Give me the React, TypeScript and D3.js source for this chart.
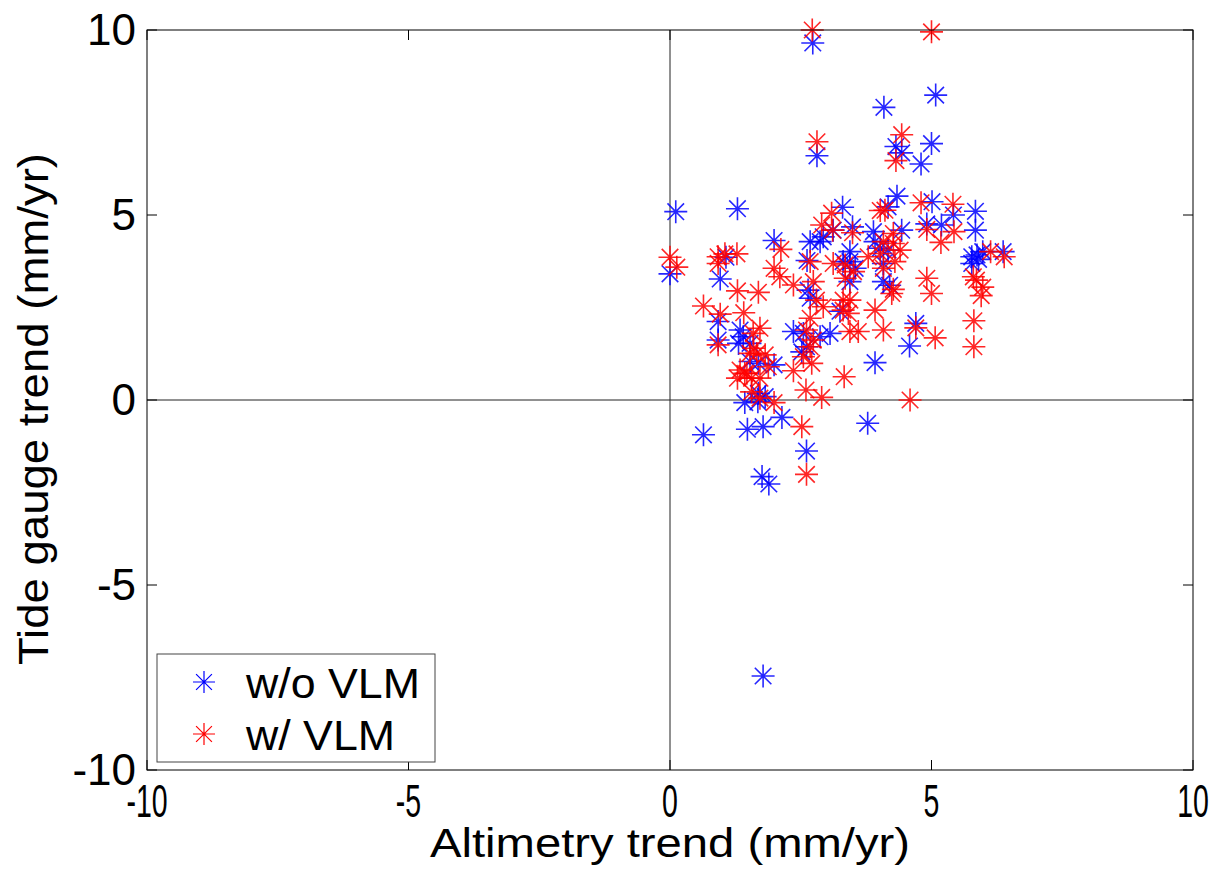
import React, { useEffect, useRef } from 'react';
import * as d3 from 'd3';

// w/o VLM (blue): [altimetry trend, tide gauge trend]
const noVlmX = [2.73, 2.81, 0.11, 1.29, 5.08, 4.09, 4.32, 4.43, 5.0, 4.8, 4.34, 3.3, 4.17, 5.01, 5.84, 5.42,
  0.0, 1.99, 1.07, 0.96, 0.92, 0.92, 1.34, 1.4, 2.36, 2.62, 2.87, 2.68, 2.93, 2.64, 2.68, 2.55, 2.87,
  5.84, 5.19, 4.91, 4.43, 3.89, 3.49, 3.12, 3.92, 4.17, 4.02, 4.08, 3.44, 3.31, 3.44, 3.54, 3.44, 4.08,
  4.2, 3.25, 3.06, 4.7, 4.58, 5.77, 5.87, 5.77, 5.98, 6.37, 5.9, 1.53, 1.69, 1.99, 1.82, 1.43, 1.68,
  1.69, 0.64, 1.48, 1.78, 2.14, 2.61, 1.76, 1.89, 2.52, 1.31, 1.53, 3.92, 3.78, 1.78, 2.61];
const noVlmY = [9.65, 6.6, 5.09, 5.17, 8.24, 7.91, 6.85, 6.68, 6.93, 6.38, 5.51, 5.21, 5.22, 5.36, 5.1, 5.0,
  3.41, 4.31, 3.86, 3.27, 2.12, 1.62, 1.89, 1.71, 1.85, 3.77, 4.28, 4.28, 4.41, 2.97, 2.75, 1.8, 1.71,
  4.59, 4.73, 4.76, 4.59, 4.55, 4.68, 4.59, 4.28, 4.05, 4.1, 3.69, 4.01, 3.74, 3.74, 3.56, 3.2, 3.2,
  3.1, 2.4, 1.8, 2.07, 1.46, 3.87, 3.92, 3.69, 4.01, 4.01, 3.8, 1.04, 0.99, 0.95, 0.09, -0.07, -0.05,
  0.18, -0.94, -0.79, -0.72, -0.47, -1.38, -2.07, -2.27, 1.3, 1.53, 1.53, 1.01, -0.63, -7.46, 1.44];

// w/ VLM (red)
const withVlmX = [2.72, 2.81, 5.0, 4.43, 4.32, 3.09, 4.02, 4.8, 5.41, 0.0, 0.13, 2.12, 0.92, 1.05, 1.28,
  0.92, 1.99, 2.1, 1.29, 1.69, 0.64, 0.96, 1.41, 0.92, 1.72, 1.59, 2.68, 2.9, 3.11, 2.36, 2.74, 2.8,
  2.93, 2.68, 2.61, 2.74, 2.68, 4.11, 5.43, 4.91, 5.18, 4.27, 3.49, 4.08, 4.27, 4.4, 4.02, 3.79, 4.3,
  4.08, 3.35, 3.51, 3.35, 3.12, 4.27, 4.24, 4.91, 5.0, 3.31, 3.31, 3.44, 3.41, 3.92, 4.08, 3.44, 3.6,
  4.7, 5.07, 5.81, 5.81, 6.13, 6.39, 5.8, 5.86, 5.98, 5.95, 1.34, 1.43, 1.29, 1.56, 1.72, 1.82, 1.66,
  1.53, 1.47, 1.88, 1.56, 1.72, 1.99, 2.52, 2.61, 2.36, 2.6, 2.9, 2.55, 2.71, 3.33, 4.59, 1.6];
const withVlmY = [10.0, 6.98, 9.95, 7.17, 6.47, 5.05, 5.12, 5.33, 5.29, 3.86, 3.59, 4.07, 3.87, 3.95, 3.95,
  3.69, 3.56, 3.33, 2.95, 2.91, 2.54, 2.32, 2.36, 1.49, 1.94, 1.8, 3.74, 4.73, 4.59, 3.11, 3.2, 2.7,
  2.52, 2.21, 1.89, 1.62, 1.44, 5.13, 4.55, 4.61, 4.26, 4.5, 4.52, 4.28, 4.23, 4.05, 3.96, 3.87, 3.74,
  3.56, 3.65, 3.47, 3.29, 3.69, 2.99, 2.88, 3.29, 2.88, 2.7, 2.43, 2.7, 2.34, 2.43, 1.89, 1.85, 1.85,
  1.95, 1.68, 2.14, 1.44, 4.01, 3.87, 3.33, 3.24, 3.05, 2.82, 0.81, 0.72, 0.59, 0.59, 0.59, 1.22, 1.26,
  1.26, 0.72, 0.9, 0.22, 0.05, -0.07, -0.72, -2.01, 0.79, 0.27, 0.07, 1.17, 0.99, 0.63, 0.0, 1.4];

const tickValues = [-10, -5, 0, 5, 10];
const seriesNames = ['w/o VLM', 'w/ VLM'];
const seriesColors = ['#0000ff', '#ff0000'];

// matlab-style '*' marker
function starPath(r: number) {
  const p = d3.path();
  const q = r * 0.72;
  p.moveTo(-r, 0); p.lineTo(r, 0);
  p.moveTo(0, -r); p.lineTo(0, r);
  p.moveTo(-q, -q); p.lineTo(q, q);
  p.moveTo(-q, q); p.lineTo(q, -q);
  return p.toString();
}

export default function App() {
  const ref = useRef<SVGSVGElement>(null);

  useEffect(() => {
    const svg = d3.select(ref.current);
    svg.selectAll('*').remove();

    const left = 147, right = 1193, top = 30, bottom = 770;
    const x = d3.scaleLinear().domain([-10, 10]).range([left, right]);
    const y = d3.scaleLinear().domain([-10, 10]).range([bottom, top]);
    const font = "'Liberation Sans', Arial, sans-serif";

    svg.append('rect').attr('width', 1225).attr('height', 870).attr('fill', '#fff');

    // zero lines
    svg.append('line')
      .attr('x1', x(0)).attr('x2', x(0)).attr('y1', top).attr('y2', bottom)
      .attr('stroke', '#222').attr('stroke-width', 1);
    svg.append('line')
      .attr('x1', left).attr('x2', right).attr('y1', y(0)).attr('y2', y(0))
      .attr('stroke', '#222').attr('stroke-width', 1);

    // ticks inside the box on all four sides
    const tl = 10;
    const ticks = svg.append('g').attr('stroke', '#000').attr('stroke-width', 1);
    tickValues.forEach(v => {
      ticks.append('line').attr('x1', x(v)).attr('x2', x(v)).attr('y1', bottom).attr('y2', bottom - tl);
      ticks.append('line').attr('x1', x(v)).attr('x2', x(v)).attr('y1', top).attr('y2', top + tl);
      ticks.append('line').attr('x1', left).attr('x2', left + tl).attr('y1', y(v)).attr('y2', y(v));
      ticks.append('line').attr('x1', right).attr('x2', right - tl).attr('y1', y(v)).attr('y2', y(v));
    });

    // series
    const star = starPath(11.5);
    const series = [
      d3.zip(noVlmX, noVlmY),
      d3.zip(withVlmX, withVlmY),
    ];
    series.forEach((pts, i) => {
      svg.append('g')
        .selectAll('path')
        .data(pts)
        .enter().append('path')
        .attr('d', star)
        .attr('transform', d => `translate(${x(d[0])},${y(d[1])})`)
        .attr('fill', 'none')
        .attr('stroke', seriesColors[i])
        .attr('stroke-width', 1.6)
        .attr('stroke-opacity', 0.85);
    });

    // box
    svg.append('rect')
      .attr('x', left).attr('y', top)
      .attr('width', right - left).attr('height', bottom - top)
      .attr('fill', 'none').attr('stroke', '#000').attr('stroke-width', 1);

    // y tick labels
    svg.append('g').selectAll('text')
      .data(tickValues)
      .enter().append('text')
      .attr('x', 136)
      .attr('y', d => y(d) + 15)
      .attr('text-anchor', 'end')
      .attr('font-family', font)
      .attr('font-size', 44)
      .text(d => d);

    // x tick labels (narrow)
    svg.append('g').selectAll('text')
      .data(tickValues)
      .enter().append('text')
      .attr('transform', d => `translate(${x(d)},817) scale(0.62,1)`)
      .attr('text-anchor', 'middle')
      .attr('font-family', font)
      .attr('font-size', 46)
      .text(d => d);

    // axis labels
    svg.append('text')
      .attr('x', 430).attr('y', 857)
      .attr('font-family', font).attr('font-size', 40)
      .attr('textLength', 480).attr('lengthAdjust', 'spacingAndGlyphs')
      .text('Altimetry trend (mm/yr)');

    svg.append('text')
      .attr('transform', 'translate(48,665) rotate(-90)')
      .attr('font-family', font).attr('font-size', 42)
      .attr('textLength', 512).attr('lengthAdjust', 'spacingAndGlyphs')
      .text('Tide gauge trend (mm/yr)');

    // legend
    const legend = svg.append('g');
    legend.append('rect')
      .attr('x', 157).attr('y', 654).attr('width', 278).attr('height', 108)
      .attr('fill', '#fff').attr('stroke', '#444').attr('stroke-width', 1);
    const legendStar = starPath(11);
    seriesNames.forEach((name, i) => {
      const cy = 682 + i * 52;
      legend.append('path')
        .attr('d', legendStar)
        .attr('transform', `translate(204,${cy})`)
        .attr('fill', 'none')
        .attr('stroke', seriesColors[i])
        .attr('stroke-width', 1.2);
      legend.append('text')
        .attr('x', 246).attr('y', cy + 16)
        .attr('font-family', font).attr('font-size', 42)
        .attr('textLength', i === 0 ? 174 : 149).attr('lengthAdjust', 'spacingAndGlyphs')
        .text(name);
    });
  }, []);

  return (
    <svg ref={ref} width={1225} height={870}
      style={{ position: 'absolute', left: 0, top: 0, display: 'block' }} />
  );
}
